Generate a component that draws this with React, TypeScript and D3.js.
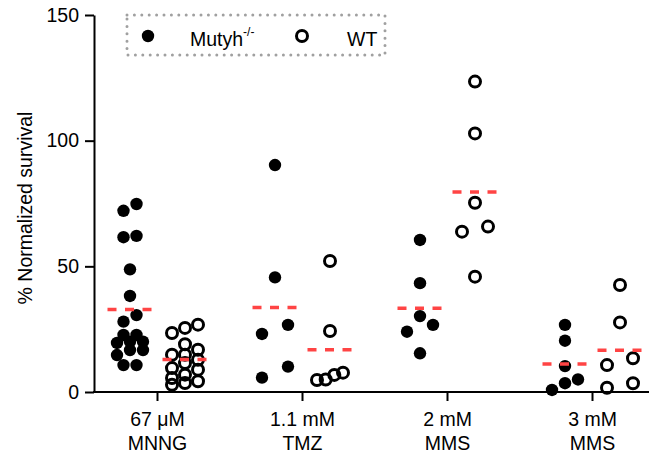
import React, { Component } from "react";
import * as d3 from "d3";

// treatments on the x axis (two-line tick labels)
const treatments = ["MNNG", "TMZ", "MMS2", "MMS3"];
const doseLabels = ["67 μM", "1.1 mM", "2 mM", "3 mM"];
const drugLabels = ["MNNG", "TMZ", "MMS", "MMS"];
const genotypes = ["Mutyh", "WT"];
const yTicks = [0, 50, 100, 150];

// % normalized survival
const mutyhMNNG = [74.8, 72.1, 62.1, 61.6, 48.8, 38.2, 30.6, 28.0, 22.7, 22.7, 20.0, 20.0, 19.5, 16.7, 16.7, 14.7, 10.7, 10.7];
const wtMNNG = [26.8, 25.5, 23.5, 19.0, 16.8, 14.8, 14.8, 12.8, 11.5, 9.5, 8.9, 6.9, 5.6, 4.3, 3.6, 2.9];
const mutyhTMZ = [90.3, 45.6, 26.7, 23.1, 10.1, 5.7];
const wtTMZ = [52.1, 24.3, 7.7, 6.8, 5.0, 4.8];
const mutyhMMS2 = [60.5, 43.3, 30.2, 26.7, 24.0, 15.4];
const wtMMS2 = [123.5, 102.9, 75.3, 65.8, 63.8, 45.9];
const mutyhMMS3 = [26.7, 20.4, 10.3, 5.0, 3.5, 0.8];
const wtMMS3 = [42.6, 27.7, 13.4, 10.7, 3.5, 1.7];

const mutyhValues = [mutyhMNNG, mutyhTMZ, mutyhMMS2, mutyhMMS3];
const wtValues = [wtMNNG, wtTMZ, wtMMS2, wtMMS3];

const FONT = "'Liberation Sans', Arial, Helvetica, sans-serif";

type Pt = { v: number; dx: number };

// simple row-based scatter like the prism layout
function swarm(values: number[], y: (v: number) => number): Pt[] {
  const dense = values.length > 10;
  const gap = dense ? 9 : 12;
  const maxRow = dense ? 3 : 99;
  const sorted = values.map(v => ({ v, py: y(v) })).sort((a, b) => a.v - b.v);
  const rows: { v: number; py: number }[][] = [];
  let cur: { v: number; py: number }[] = [];
  sorted.forEach(p => {
    if (cur.length && (Math.abs(cur[0].py - p.py) >= gap || cur.length >= maxRow)) {
      rows.push(cur);
      cur = [];
    }
    cur.push(p);
  });
  if (cur.length) rows.push(cur);
  const maxStep = dense ? 13 : 26;
  const out: Pt[] = [];
  rows.forEach(r => {
    const n = r.length;
    const step = n > 1 ? Math.min(maxStep, 26 / (n - 1)) : 0;
    r.forEach((p, i) => out.push({ v: p.v, dx: (i - (n - 1) / 2) * step }));
  });
  return out;
}

class App extends Component {
  svgRef = React.createRef<SVGSVGElement>();

  componentDidMount() {
    this.renderChart();
  }

  componentDidUpdate() {
    this.renderChart();
  }

  renderChart() {
    const W = 649;
    const H = 453;
    const left = 94;
    const top = 15;
    const bottom = 392;

    const svg = d3.select(this.svgRef.current);
    svg.selectAll("*").remove();
    svg.attr("width", W).attr("height", H);

    const x = d3.scaleBand().domain(treatments).range([85, 665]);
    const sub = d3.scalePoint().domain(genotypes).range([-27.5, 27.5]);
    const y = d3.scaleLinear().domain([0, 150]).range([bottom, top]);

    // y axis
    const yAxis = svg.append("g")
      .attr("transform", `translate(${left},0)`)
      .call(d3.axisLeft(y).tickValues(yTicks).tickSize(9).tickPadding(6).tickSizeOuter(0));
    yAxis.select(".domain").attr("stroke", "#000").attr("stroke-width", 2);
    yAxis.selectAll(".tick line").attr("stroke", "#000").attr("stroke-width", 2);
    yAxis.selectAll(".tick text")
      .attr("fill", "#000")
      .style("font-family", FONT)
      .style("font-size", "19.5px");

    // x axis
    svg.append("line")
      .attr("x1", left - 1).attr("x2", W)
      .attr("y1", bottom).attr("y2", bottom)
      .attr("stroke", "#000").attr("stroke-width", 2);

    treatments.forEach((t, i) => {
      const cx = (x(t) as number) + x.bandwidth() / 2;
      svg.append("line")
        .attr("x1", cx).attr("x2", cx)
        .attr("y1", bottom).attr("y2", bottom + 9)
        .attr("stroke", "#000").attr("stroke-width", 2);
      const label = svg.append("text")
        .attr("text-anchor", "middle")
        .style("font-family", FONT)
        .style("font-size", "19.5px");
      label.append("tspan").attr("x", cx).attr("y", 426).text(doseLabels[i]);
      label.append("tspan").attr("x", cx).attr("y", 450).text(drugLabels[i]);
    });

    // y title
    svg.append("text")
      .attr("transform", `translate(31.5,208) rotate(-90)`)
      .attr("text-anchor", "middle")
      .style("font-family", FONT)
      .style("font-size", "19.5px")
      .text("% Normalized survival");

    // points
    treatments.forEach((t, i) => {
      const cx = (x(t) as number) + x.bandwidth() / 2;
      [mutyhValues[i], wtValues[i]].forEach((vals, gi) => {
        const gx = cx + (sub(genotypes[gi]) as number);
        const pts = swarm(vals, y);
        const sel = svg.append("g").selectAll("circle")
          .data(pts)
          .join("circle")
          .attr("cx", d => gx + d.dx)
          .attr("cy", d => y(d.v));
        if (gi === 0) {
          sel.attr("r", 6.2).attr("fill", "#000");
        } else {
          sel.attr("r", 5.5).attr("fill", "none").attr("stroke", "#000").attr("stroke-width", 3);
        }
      });
    });

    // mean lines
    treatments.forEach((t, i) => {
      const cx = (x(t) as number) + x.bandwidth() / 2;
      [mutyhValues[i], wtValues[i]].forEach((vals, gi) => {
        const gx = cx + (sub(genotypes[gi]) as number);
        const m = d3.mean(vals) as number;
        svg.append("line")
          .attr("x1", gx - 22.5).attr("x2", gx + 22.5)
          .attr("y1", y(m)).attr("y2", y(m))
          .attr("stroke", "#ff4444")
          .attr("stroke-width", 3.5)
          .attr("stroke-dasharray", "9 8.5");
      });
    });

    // legend
    const lg = svg.append("g");
    lg.append("rect")
      .attr("x", 127).attr("y", 15).attr("width", 258).attr("height", 40)
      .attr("fill", "none")
      .attr("stroke", "#a0a0a0")
      .attr("stroke-width", 3)
      .attr("stroke-linecap", "round")
      .attr("stroke-dasharray", "0 7.4");
    lg.append("circle").attr("cx", 148).attr("cy", 36).attr("r", 6.2).attr("fill", "#000");
    const t1 = lg.append("text")
      .attr("x", 190).attr("y", 45.5)
      .style("font-family", FONT)
      .style("font-size", "19.5px");
    t1.append("tspan").text("Mutyh");
    t1.append("tspan").attr("dy", -10).style("font-size", "12px").text("-/-");
    lg.append("circle").attr("cx", 302).attr("cy", 36).attr("r", 5.5)
      .attr("fill", "none").attr("stroke", "#000").attr("stroke-width", 3);
    lg.append("text")
      .attr("x", 347).attr("y", 45.5)
      .style("font-family", FONT)
      .style("font-size", "19.5px")
      .text("WT");
  }

  render() {
    return (
      <svg ref={this.svgRef} style={{ position: "absolute", left: 0, top: 0, background: "#fff" }} />
    );
  }
}

export default App;
